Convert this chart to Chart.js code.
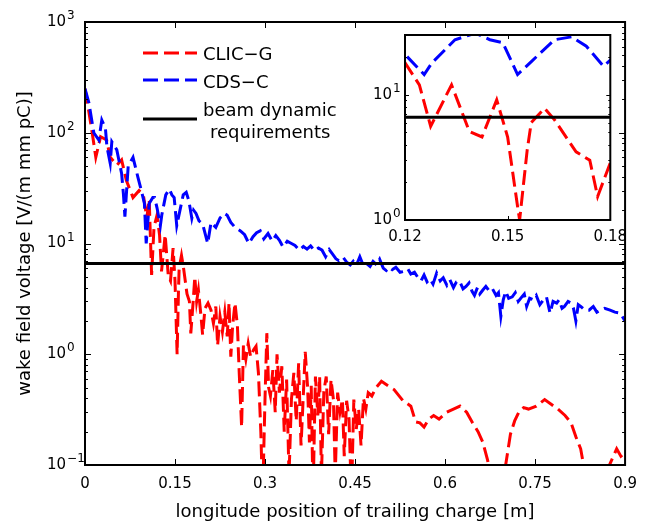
<!DOCTYPE html>
<html>
<head>
<meta charset="utf-8">
<script src="https://cdn.jsdelivr.net/npm/chart.js@4.4.0/dist/chart.umd.min.js"></script>
<style>
  body { margin: 0; background: #fff; }
  #wrap { position: relative; width: 647px; height: 525px; }
  #main { position: absolute; left: 0; top: 0; }
  #inset { position: absolute; left: 355px; top: 20px; }
</style>
</head>
<body>
<div id="wrap">
  <canvas id="main" width="647" height="525"></canvas>
  <canvas id="inset" width="280" height="232"></canvas>
</div>
<script>
// CLIC-G wake [V/(m mm pC)] vs position [m]
const clicX = [
  0, 0.006, 0.012, 0.018, 0.026, 0.036, 0.042, 0.053, 0.061, 0.069,
  0.080, 0.090, 0.097, 0.103, 0.107, 0.111, 0.115, 0.120, 0.1242, 0.1275,
  0.1336, 0.1388, 0.1425, 0.1468, 0.150, 0.1529, 0.1535, 0.1557, 0.1569, 0.1608,
  0.1637, 0.170, 0.174, 0.1763, 0.180, 0.183, 0.186, 0.189, 0.193, 0.196,
  0.200, 0.205, 0.210, 0.214, 0.218, 0.221, 0.225, 0.229, 0.233, 0.237,
  0.240, 0.243, 0.246, 0.250, 0.254, 0.257, 0.261, 0.264, 0.268, 0.272,
  0.276, 0.281, 0.285, 0.289, 0.293, 0.296, 0.300, 0.303, 0.306, 0.309,
  0.313, 0.317, 0.320, 0.324, 0.328, 0.332, 0.336, 0.340, 0.344, 0.348,
  0.352, 0.356, 0.360, 0.363, 0.367, 0.371, 0.374, 0.377, 0.380, 0.384,
  0.388, 0.391, 0.394, 0.398, 0.402, 0.406, 0.410, 0.414, 0.417, 0.421,
  0.425, 0.429, 0.432, 0.436, 0.440, 0.444, 0.448, 0.452, 0.456, 0.460,
  0.464, 0.468, 0.472, 0.478, 0.485, 0.494, 0.505, 0.515, 0.530, 0.543,
  0.551, 0.558, 0.565, 0.573, 0.581, 0.590, 0.603, 0.614, 0.625, 0.636,
  0.646, 0.655, 0.663, 0.671, 0.680, 0.690, 0.701, 0.709, 0.716, 0.723,
  0.731, 0.739, 0.752, 0.766, 0.778, 0.788, 0.800, 0.810, 0.818, 0.826,
  0.834, 0.850, 0.865, 0.874, 0.886, 0.893, 0.900
];
const clicY = [
  250, 160, 100, 60, 92, 86, 60, 51, 57, 37,
  26, 30, 28, 17, 25, 5.2, 14, 18, 12, 5.6,
  12, 5.1, 4.6, 9.1, 4.6, 1.28, 1.0, 3.6, 6.0, 7.8,
  6.3, 3.5, 3.0, 1.54, 2.86, 5.0, 3.0, 3.8, 2.3, 1.5,
  2.6, 2.9, 2.5, 1.9, 2.7, 1.2, 2.2, 1.6, 2.4, 1.45,
  2.9, 0.95, 1.8, 2.9, 1.8, 0.68, 0.22, 1.2, 0.9, 1.25,
  0.95, 1.1, 1.18, 0.68, 0.2, 0.05, 0.4, 1.55, 0.5, 0.42,
  0.72, 0.3, 1.0, 0.45, 0.78, 0.2, 0.59, 0.08, 0.39, 0.68,
  0.25, 0.83, 0.15, 0.34, 1.05, 0.5, 0.16, 0.52, 0.05, 0.63,
  0.28, 0.63, 0.08, 0.46, 0.63, 0.19, 0.59, 0.39, 0.08, 0.45,
  0.3, 0.39, 0.12, 0.38, 0.26, 0.05, 0.39, 0.21, 0.32, 0.15,
  0.4, 0.32, 0.45, 0.42, 0.5, 0.57, 0.52, 0.48, 0.38, 0.34,
  0.245, 0.24, 0.22, 0.26, 0.28, 0.26, 0.3, 0.32, 0.34, 0.3,
  0.24, 0.2, 0.16, 0.11, 0.06, 0.04, 0.1, 0.19, 0.25, 0.3,
  0.33, 0.32, 0.34, 0.39, 0.35, 0.32, 0.28, 0.24, 0.18, 0.14,
  0.08, 0.04, 0.07, 0.1, 0.14, 0.12, 0.13
];

// CDS-C
const cdsX = [
  0, 0.0065, 0.0147, 0.023, 0.028, 0.034, 0.0365, 0.042, 0.0447, 0.053,
  0.061, 0.064, 0.0665, 0.072, 0.080, 0.088, 0.094, 0.099, 0.102, 0.107,
  0.113, 0.116, 0.120, 0.1256, 0.1279, 0.1346, 0.1406, 0.1448, 0.1486, 0.1529,
  0.157, 0.1637, 0.1687, 0.173, 0.178, 0.181, 0.185, 0.190, 0.196, 0.2045,
  0.210, 0.218, 0.225, 0.232, 0.237, 0.243, 0.250, 0.259, 0.266, 0.273,
  0.280, 0.286, 0.292, 0.298, 0.305, 0.312, 0.318, 0.324, 0.330, 0.337,
  0.344, 0.350, 0.357, 0.364, 0.370, 0.376, 0.383, 0.389, 0.395, 0.401,
  0.407, 0.412, 0.418, 0.423, 0.430, 0.436, 0.442, 0.447, 0.452, 0.458,
  0.463, 0.469, 0.475, 0.480, 0.486, 0.491, 0.497, 0.502, 0.507, 0.512,
  0.518, 0.525, 0.532, 0.538, 0.543, 0.549, 0.554, 0.560, 0.565, 0.570,
  0.575, 0.580, 0.586, 0.592, 0.597, 0.603, 0.608, 0.614, 0.619, 0.624,
  0.630, 0.635, 0.640, 0.645, 0.649, 0.654, 0.658, 0.663, 0.668, 0.674,
  0.679, 0.685, 0.689, 0.693, 0.697, 0.701, 0.706, 0.712, 0.717, 0.722,
  0.728, 0.732, 0.736, 0.741, 0.747, 0.752, 0.758, 0.764, 0.769, 0.775,
  0.780, 0.786, 0.790, 0.795, 0.799, 0.805, 0.810, 0.814, 0.818, 0.822,
  0.826, 0.833, 0.840, 0.847, 0.853, 0.859, 0.866, 0.875, 0.883, 0.892,
  0.900
];
const cdsY = [
  250, 186, 100, 86, 130, 110, 75, 53, 83, 70,
  43, 28, 17.5, 50, 60, 40, 30, 23, 10, 23,
  26, 26, 21, 14.5, 18, 27.5, 31, 27.5, 26, 14.5,
  18.5, 27.5, 29, 24.4, 16.9, 20, 18.7, 16, 15, 10,
  15.5, 14, 17, 18.7, 18, 15.5, 14, 13, 12, 10,
  11.5, 12.5, 13, 11, 12.3, 10.5, 11.8, 10.7, 9.3, 10.5,
  10, 9.6, 8.7, 9.4, 8.9, 9.5, 8.6, 9.1, 8.7, 7.6,
  8.8, 8.1, 7.3, 7.0, 7.5, 6.8, 6.4, 6.9, 6.3, 7.6,
  6.5, 6.6, 6.2, 6.9, 6.4, 7.2, 6.0, 5.7, 6.1, 5.8,
  6.1, 5.5, 5.6, 5.9, 5.3, 5.5, 5.0, 4.6, 5.2, 4.5,
  4.8, 4.3, 5.4, 4.6, 4.9, 4.2, 4.7, 4.0, 4.5, 4.6,
  3.9, 4.1, 4.4, 3.7, 3.4, 4.0, 3.5, 3.8, 4.1, 3.7,
  3.9, 3.4, 3.6, 2.2, 3.1, 3.7, 3.2, 3.3, 3.6, 3.0,
  3.3, 3.5, 2.7, 3.2, 3.1, 3.4, 2.8, 3.1, 3.3, 2.35,
  3.0, 2.9, 3.1, 2.6, 2.7, 3.0, 2.9, 2.6, 2.0, 2.8,
  2.7, 2.5, 2.5, 2.7, 2.4, 2.5, 2.6, 2.5, 2.4, 2.35,
  2.0
];

// beam dynamic requirement
const reqX = [0, 0.9];
const reqY = [6.6, 6.6];

const xTicks = [0, 0.15, 0.3, 0.45, 0.6, 0.75, 0.9];
const xTickLabels = ['0', '0.15', '0.3', '0.45', '0.6', '0.75', '0.9'];
const yTicks = [0.1, 1, 10, 100, 1000];
const yTickExps = ['\u22121', '0', '1', '2', '3'];

const insetXTicks = [0.12, 0.15, 0.18];
const insetXTickLabels = ['0.12', '0.15', '0.18'];
const insetYTicks = [1, 10];
const insetYTickExps = ['0', '1'];

const seriesLabels = ['CLIC\u2212G', 'CDS\u2212C', 'beam dynamic', 'requirements'];
const FONT = '"DejaVu Sans", sans-serif';

Chart.defaults.font.family = FONT;
Chart.defaults.color = '#000';

function pts(xs, ys) {
    return xs.map((x, i) => ({ x: x, y: ys[i] }));
}

function makeDatasets() {
    return [
        { data: pts(clicX, clicY), borderColor: '#ff0000', borderWidth: 3, borderDash: [15, 6], pointRadius: 0, order: 3 },
        { data: pts(cdsX, cdsY), borderColor: '#0000ff', borderWidth: 3, borderDash: [15, 6], pointRadius: 0, order: 2 },
        { data: pts(reqX, reqY), borderColor: '#000000', borderWidth: 3, pointRadius: 0, order: 1 }
    ];
}

// box, inward ticks and 10^n labels, matlab style
function framePlugin(cfg) {
    return {
        id: 'frame',
        beforeDraw(chart) {
            if (!cfg.fill) return;
            const a = chart.chartArea;
            const ctx = chart.ctx;
            ctx.save();
            ctx.fillStyle = '#fff';
            ctx.fillRect(a.left, a.top, a.right - a.left, a.bottom - a.top);
            ctx.restore();
        },
        afterDraw(chart) {
            const ctx = chart.ctx;
            const a = chart.chartArea;
            const xs = chart.scales.x;
            const ys = chart.scales.y;
            ctx.save();
            ctx.strokeStyle = '#000';
            ctx.lineWidth = 1;
            ctx.beginPath();
            cfg.xTicks.forEach(v => {
                const px = Math.round(xs.getPixelForValue(v)) + 0.5;
                ctx.moveTo(px, a.bottom); ctx.lineTo(px, a.bottom - cfg.major);
                ctx.moveTo(px, a.top); ctx.lineTo(px, a.top + cfg.major);
            });
            cfg.yTicks.forEach(v => {
                const last = cfg.minor ? 9 : 1;
                for (let m = 1; m <= last; m++) {
                    const val = v * m;
                    if (val > ys.max * 1.0001) break;
                    const py = Math.round(ys.getPixelForValue(val)) + 0.5;
                    const len = m === 1 ? cfg.major : cfg.minorLen;
                    ctx.moveTo(a.left, py); ctx.lineTo(a.left + len, py);
                    ctx.moveTo(a.right, py); ctx.lineTo(a.right - len, py);
                }
            });
            ctx.stroke();

            ctx.lineWidth = cfg.frameWidth;
            ctx.strokeRect(a.left, a.top, a.right - a.left, a.bottom - a.top);

            ctx.fillStyle = '#000';
            ctx.textBaseline = 'middle';
            ctx.textAlign = 'left';
            cfg.yTicks.forEach((v, i) => {
                const py = ys.getPixelForValue(v);
                ctx.font = '15px ' + FONT;
                ctx.fillText('10', cfg.labelX, py);
                const w = ctx.measureText('10').width;
                ctx.font = '12px ' + FONT;
                ctx.fillText(cfg.exps[i], cfg.labelX + w + 1, py - 6);
            });

            if (cfg.legend) drawLegend(chart);
            ctx.restore();
        }
    };
}

function drawLegend(chart) {
    const ctx = chart.ctx;
    const ds = chart.data.datasets;
    ctx.font = '18px ' + FONT;
    ctx.textBaseline = 'alphabetic';
    ctx.lineWidth = 3;
    const rows = [
        { y: 53, text: [[seriesLabels[0], 203, 60]] },
        { y: 80, text: [[seriesLabels[1], 203, 88]] },
        { y: 119, text: [[seriesLabels[2], 203, 116], [seriesLabels[3], 210, 138]] }
    ];
    rows.forEach((r, i) => {
        ctx.strokeStyle = ds[i].borderColor;
        ctx.setLineDash(ds[i].borderDash || []);
        ctx.beginPath();
        ctx.moveTo(143, r.y);
        ctx.lineTo(197, r.y);
        ctx.stroke();
        r.text.forEach(t => ctx.fillText(t[0], t[1], t[2]));
    });
    ctx.setLineDash([]);
}

new Chart(document.getElementById('main'), {
    type: 'line',
    data: { datasets: makeDatasets() },
    options: {
        responsive: false,
        animation: false,
        layout: { padding: { top: 22, right: 12, left: 0, bottom: 0 } },
        plugins: { legend: { display: false }, tooltip: { enabled: false } },
        scales: {
            x: {
                type: 'linear', min: 0, max: 0.9,
                afterBuildTicks: s => { s.ticks = xTicks.map(v => ({ value: v })); },
                afterFit: s => { s.height = 60; },
                grid: { display: false, drawTicks: false },
                border: { display: false },
                ticks: { autoSkip: false, maxRotation: 0, padding: 10, font: { size: 15 },
                         callback: (v, i) => xTickLabels[i] },
                title: { display: true, text: 'longitude position of trailing charge [m]',
                         font: { size: 18 }, padding: { top: 0, bottom: 2 } }
            },
            y: {
                type: 'logarithmic', min: 0.1, max: 1000,
                afterFit: s => { s.width = 85; },
                grid: { display: false, drawTicks: false },
                border: { display: false },
                ticks: { display: false },
                title: { display: true, text: 'wake field voltage [V/(m mm pC)]',
                         font: { size: 18 }, padding: { top: 15, bottom: 0 } }
            }
        }
    },
    plugins: [framePlugin({ xTicks: xTicks, yTicks: yTicks, exps: yTickExps, labelX: 47,
                            major: 6, minorLen: 3, minor: true, frameWidth: 2, legend: true })]
});

new Chart(document.getElementById('inset'), {
    type: 'line',
    data: { datasets: makeDatasets() },
    options: {
        responsive: false,
        animation: false,
        layout: { padding: { top: 15, right: 17, left: 0, bottom: 0 } },
        plugins: { legend: { display: false }, tooltip: { enabled: false } },
        scales: {
            x: {
                type: 'linear', min: 0.12, max: 0.18,
                afterBuildTicks: s => { s.ticks = insetXTicks.map(v => ({ value: v })); },
                afterFit: s => { s.height = 32; },
                grid: { display: false, drawTicks: false },
                border: { display: false },
                ticks: { autoSkip: false, maxRotation: 0, padding: 8, font: { size: 15 },
                         callback: (v, i) => insetXTickLabels[i] }
            },
            y: {
                type: 'logarithmic', min: 1, max: 30,
                afterFit: s => { s.width = 50; },
                grid: { display: false, drawTicks: false },
                border: { display: false },
                ticks: { display: false }
            }
        }
    },
    plugins: [framePlugin({ xTicks: insetXTicks, yTicks: insetYTicks, exps: insetYTickExps, labelX: 18,
                            major: 4, minorLen: 2, minor: true, frameWidth: 2, fill: true })]
});
</script>
</body>
</html>
